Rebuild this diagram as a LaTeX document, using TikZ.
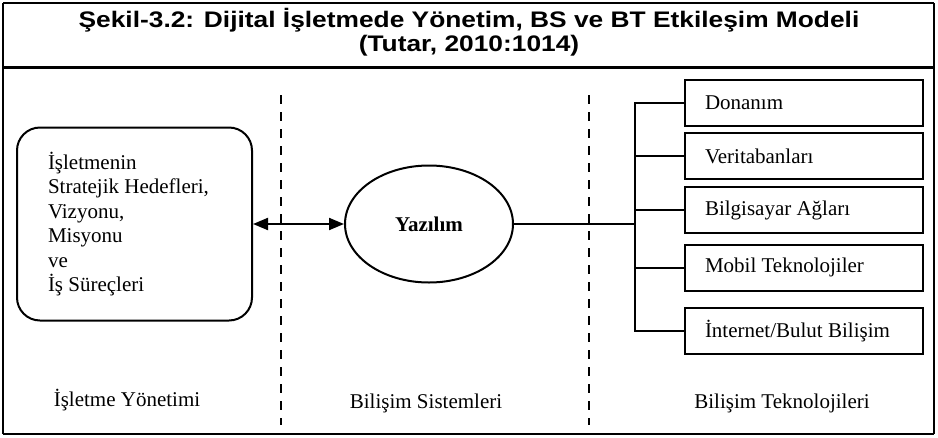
\documentclass[tikz,border=0pt]{standalone}
\usepackage{fontspec}
\setmainfont{Liberation Serif}
\newfontfamily\titlefont[FakeStretch=1.17]{Liberation Sans}
\usetikzlibrary{arrows.meta,positioning,shapes.geometric}
\pgfdeclarelayer{edgelayer}
\pgfdeclarelayer{nodelayer}
\pgfsetlayers{edgelayer,nodelayer,main}
\newcommand{\bodysize}{\fontsize{21}{24.5}\selectfont}
\newcommand{\headsize}{\titlefont\bfseries\fontsize{22.5}{24.5}\selectfont}
\tikzset{font=\bodysize}
\tikzstyle{none}=[inner sep=0pt]
\tikzstyle{heading}=[inner sep=0pt,align=center,font=\headsize]
\tikzstyle{goalbox}=[rectangle,rounded corners=23pt,draw=black,line width=2,minimum width=235,minimum height=193,text width=173,inner xsep=31,align=flush left]
\tikzstyle{softbox}=[ellipse,draw=black,line width=2,minimum width=168,minimum height=117,inner sep=0pt,font=\bodysize\bfseries]
\tikzstyle{techbox}=[rectangle,draw=black,line width=2,minimum width=238,minimum height=46,text width=198,inner xsep=20,align=flush left]
\tikzstyle{frameline}=[-,line width=2.4]
\tikzstyle{simple}=[-,line width=2]
\tikzstyle{divider}=[-,dash pattern=on 9pt off 8pt,line width=2.5]
\tikzstyle{biarrow}=[{Triangle[length=15pt,width=12pt]}-{Triangle[length=15pt,width=12pt]},line width=2]

\begin{document}
\begin{tikzpicture}[x=1pt,y=-1pt]
	\useasboundingbox (0,0) rectangle (938,437);
	\begin{pgfonlayer}{nodelayer}
		\node [style=heading] (title) at (469,32) {Şekil-3.2: Dijital İşletmede Yönetim, BS ve BT Etkileşim Modeli\\(Tutar, 2010:1014)};
		\node [style=goalbox] (goals) at (134.5,224) {İşletmenin\\Stratejik Hedefleri,\\Vizyonu,\\Misyonu\\ve\\İş Süreçleri};
		\node [style=softbox] (yazilim) at (429,224) {Yazılım};
		\node [style=techbox] (donanim) at (804,102.5) {Donanım};
		\node [style=techbox] (veritabani) at (804,156) {Veritabanları};
		\node [style=techbox] (aglar) at (804,210) {Bilgisayar Ağları};
		\node [style=techbox] (mobil) at (804,267.5) {Mobil Teknolojiler};
		\node [style=techbox] (bulut) at (804,331) {İnternet/Bulut Bilişim};
		\node [style=none] (yonetim) at (127,400) {İşletme Yönetimi};
		\node [style=none] (sistem) at (426,403) {Bilişim Sistemleri};
		\node [style=none] (teknoloji) at (782,403) {Bilişim Teknolojileri};
		\node [style=none] (hub) at (635,224) {};
		\node [style=none] (FTL) at (3,3) {};
		\node [style=none] (FTR) at (934,3) {};
		\node [style=none] (FBR) at (934,434) {};
		\node [style=none] (FBL) at (3,434) {};
		\node [style=none] (HL) at (3,67.5) {};
		\node [style=none] (HR) at (934,67.5) {};
		\node [style=none] (D1T) at (281,95) {};
		\node [style=none] (D1B) at (281,425) {};
		\node [style=none] (D2T) at (589,95) {};
		\node [style=none] (D2B) at (589,425) {};
	\end{pgfonlayer}
	\begin{pgfonlayer}{edgelayer}
		\draw [style=frameline] (FTL.center) to (FTR.center);
		\draw [style=frameline] (FTR.center) to (FBR.center);
		\draw [style=frameline] (FBR.center) to (FBL.center);
		\draw [style=frameline] (FBL.center) to (FTL.center);
		\draw [style=frameline] (HL.center) to (HR.center);
		\draw [style=divider] (D1T.center) to (D1B.center);
		\draw [style=divider] (D2T.center) to (D2B.center);
		\draw [style=biarrow] (goals) to (yazilim);
		\draw [style=simple] (yazilim) to (hub.center);
		\draw [style=simple] (hub.center) |- (donanim);
		\draw [style=simple] (hub.center) |- (veritabani);
		\draw [style=simple] (hub.center) |- (aglar);
		\draw [style=simple] (hub.center) |- (mobil);
		\draw [style=simple] (hub.center) |- (bulut);
	\end{pgfonlayer}
\end{tikzpicture}
\end{document}
